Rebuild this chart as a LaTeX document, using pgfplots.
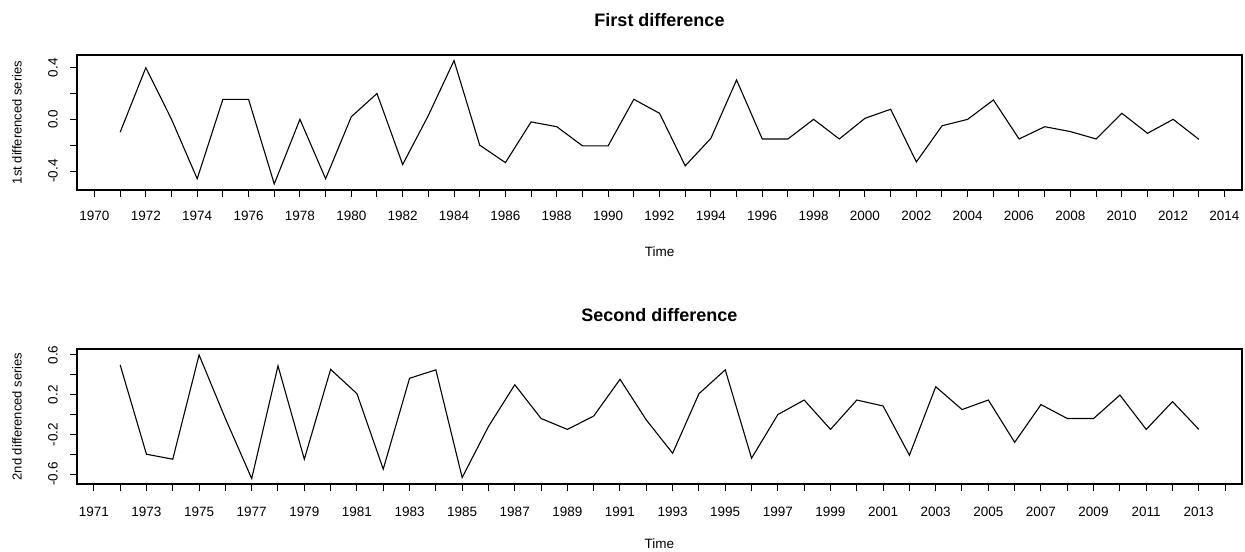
\documentclass[border=0pt]{standalone}
\usepackage{fontspec}
\setmainfont{Liberation Sans}
\usepackage{pgfplots}
\usepackage{pgfplotstable}
\pgfplotsset{compat=1.18}
\pgfplotstableread{
year val
1971 -0.10
1972 0.40
1973 0.00
1974 -0.46
1975 0.155
1976 0.155
1977 -0.50
1978 0.00
1979 -0.46
1980 0.02
1981 0.20
1982 -0.35
1983 0.03
1984 0.455
1985 -0.20
1986 -0.335
1987 -0.02
1988 -0.057
1989 -0.205
1990 -0.205
1991 0.155
1992 0.047
1993 -0.36
1994 -0.147
1995 0.305
1996 -0.152
1997 -0.152
1998 0.00
1999 -0.152
2000 0.008
2001 0.078
2002 -0.33
2003 -0.05
2004 0.00
2005 0.15
2006 -0.152
2007 -0.057
2008 -0.095
2009 -0.152
2010 0.047
2011 -0.108
2012 0.00
2013 -0.155
}\firstdiff
\pgfplotstableread{
year val
1972 0.50
1973 -0.40
1974 -0.45
1975 0.60
1976 -0.04
1977 -0.645
1978 0.49
1979 -0.45
1980 0.455
1981 0.21
1982 -0.55
1983 0.365
1984 0.45
1985 -0.635
1986 -0.12
1987 0.30
1988 -0.04
1989 -0.15
1990 -0.015
1991 0.355
1992 -0.055
1993 -0.39
1994 0.21
1995 0.45
1996 -0.44
1997 0.00
1998 0.146
1999 -0.15
2000 0.146
2001 0.086
2002 -0.41
2003 0.28
2004 0.05
2005 0.146
2006 -0.28
2007 0.10
2008 -0.04
2009 -0.04
2010 0.196
2011 -0.15
2012 0.13
2013 -0.15
}\seconddiff
\begin{document}
\begin{tikzpicture}
\path[use as bounding box] (0,0) rectangle (1245bp,-552bp);
\pgfplotsset{
  rstyle/.style={
    scale only axis, width=1165bp, height=135bp,
    anchor=north west,
    axis line style={line width=1.3bp},
    every tick/.style={line width=1bp, black},
    tick align=outside, major tick length=7bp,
    xtick pos=bottom, ytick pos=left,
    /pgf/number format/assume math mode=true,
    ticklabel style={font=\fontsize{13.5bp}{15bp}\selectfont},
    yticklabel style={rotate=90, anchor=center},
    xticklabel style={anchor=center},
    yticklabel shift=17bp,
    every axis y label/.style={at={(axis description cs:-0.0515,0.5)}, rotate=90, anchor=center, font=\fontsize{13bp}{15bp}\selectfont},
    every axis x label/.style={at={(axis description cs:0.5,0)}, anchor=center, font=\fontsize{13.5bp}{15bp}\selectfont},
    every axis title/.style={at={(axis description cs:0.5,1)}, anchor=center, font=\bfseries\fontsize{18bp}{20bp}\selectfont},
  }
}
\begin{axis}[rstyle, at={(77bp,-55bp)},
  xmin=1969.32, xmax=2014.68, ymin=-0.547, ymax=0.498,
  xticklabel shift=19bp,
  xtick={1970,...,2014},
  xticklabels={1970,,1972,,1974,,1976,,1978,,1980,,1982,,1984,,1986,,1988,,1990,,1992,,1994,,1996,,1998,,2000,,2002,,2004,,2006,,2008,,2010,,2012,,2014},
  ytick={-0.4,-0.2,0,0.2,0.4},
  yticklabels={-0.4,,0.0,,0.4},
  title={First difference}, title style={yshift=35bp},
  xlabel={Time}, xlabel style={yshift=-62bp},
  ylabel={1st differenced series}]
\addplot[black, line width=1.1bp] table[x=year, y=val] {\firstdiff};
\end{axis}
\begin{axis}[rstyle, at={(77bp,-349bp)},
  xmin=1970.36, xmax=2014.64, ymin=-0.700, ymax=0.660,
  xticklabel shift=20.5bp,
  xtick={1971,...,2014},
  xticklabels={1971,,1973,,1975,,1977,,1979,,1981,,1983,,1985,,1987,,1989,,1991,,1993,,1995,,1997,,1999,,2001,,2003,,2005,,2007,,2009,,2011,,2013,},
  ytick={-0.6,-0.4,-0.2,0,0.2,0.4,0.6},
  yticklabels={-0.6,,-0.2,,0.2,,0.6},
  title={Second difference}, title style={yshift=34bp},
  xlabel={Time}, xlabel style={yshift=-60bp},
  ylabel={2nd differenced series}]
\addplot[black, line width=1.1bp] table[x=year, y=val] {\seconddiff};
\end{axis}
\end{tikzpicture}
\end{document}
